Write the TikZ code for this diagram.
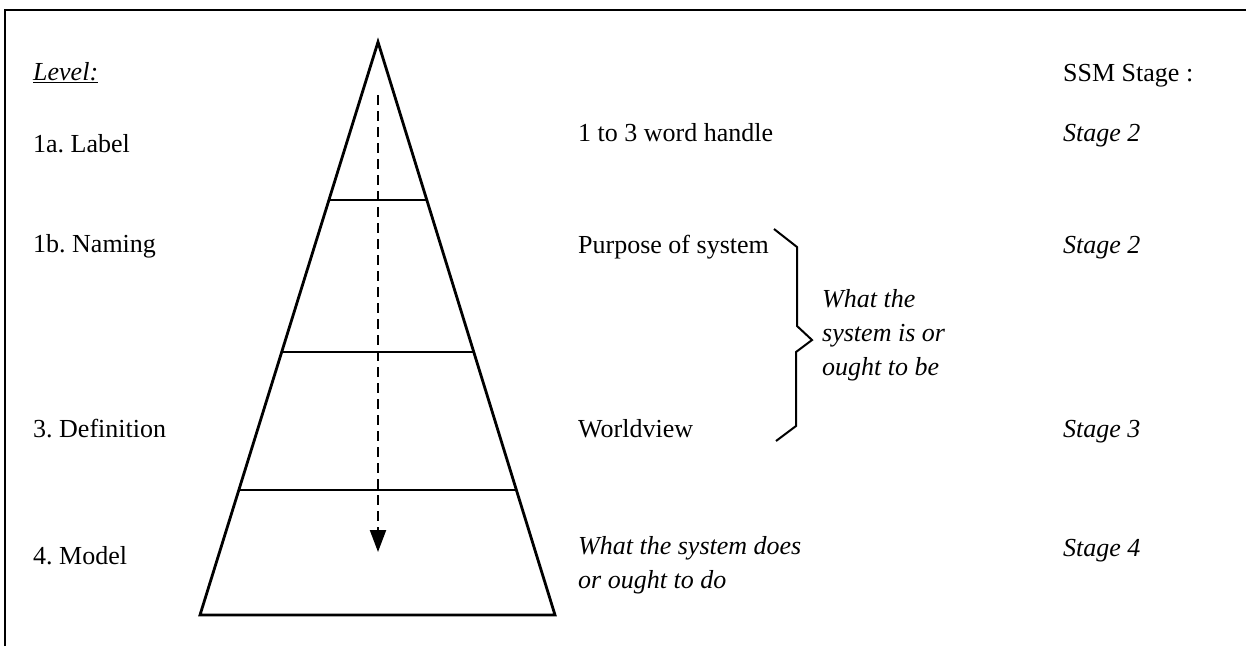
\documentclass[tikz,border=0pt]{standalone}
\usepackage{fontspec}
\setmainfont{Liberation Serif}
\usetikzlibrary{arrows.meta,calc}
\frenchspacing
\begin{document}
\begin{tikzpicture}[x=1pt,y=-1pt,
  txt/.style={anchor=base west, inner sep=0pt, font=\fontsize{26}{34}\selectfont},
  itxt/.style={txt, font=\fontsize{26}{34}\selectfont\itshape},
  blocktxt/.style={anchor=west, inner sep=0pt, align=left, font=\fontsize{26}{34}\selectfont\itshape},
  side/.style={line width=2.8pt, line join=miter},
  band/.style={line width=1.8pt},
  flow/.style={line width=2.2pt, dash pattern=on 10pt off 6pt, -{Triangle[width=16pt,length=22pt]}},
  brace/.style={line width=2pt, line join=miter},
]
\useasboundingbox (0,0) rectangle (1246,646);

% open frame: left and top edges only
\draw[line width=2.4pt] (5,646) -- (5,10) -- (1246,10);

% pyramid outline
\coordinate (apex) at (378,42);
\coordinate (bl) at (200,615);
\coordinate (br) at (555,615);
\draw[side] (bl) -- (apex) -- (br) -- cycle;

% level dividers
\draw[band] ($(apex)!0.2757!(bl)$) -- ($(apex)!0.2757!(br)$);
\draw[band] ($(apex)!0.541!(bl)$) -- ($(apex)!0.541!(br)$);
\draw[band] ($(apex)!0.782!(bl)$) -- ($(apex)!0.782!(br)$);

% downward dashed arrow
\coordinate (arrtop) at (378,95);
\coordinate (arrend) at (378,552);
\draw[flow] (arrtop) -- (arrend);

% level names
\node[txt] (lvl) at (33,80) {\underline{\textit{Level:}}};
\node[txt] (l1a) at (33,152) {1a. Label};
\node[txt] (l1b) at (33,252) {1b. Naming};
\node[txt] (l3) at (33,437) {3. Definition};
\node[txt] (l4) at (33,564) {4. Model};

% descriptions
\node[txt] (d1) at (578,141) {1 to 3 word handle};
\node[txt] (d2) at (578,253) {Purpose of system};
\node[txt] (d3) at (578,437) {Worldview};
\node[blocktxt] (d4) at (578,565) {What the system does\\or ought to do};

% brace grouping purpose and worldview
\draw[brace] (774,229) -- (797,247) -- (797,326) -- (812,340) -- (796,352) -- (796,426) -- (776,441);
\node[blocktxt] (bnote) at (822,335) {What the\\system is or\\ought to be};

% SSM stages
\node[txt] (sh) at (1063,81) {SSM Stage :};
\node[itxt] (s1) at (1063,141) {Stage 2};
\node[itxt] (s2) at (1063,253) {Stage 2};
\node[itxt] (s3) at (1063,437) {Stage 3};
\node[itxt] (s4) at (1063,556) {Stage 4};
\end{tikzpicture}
\end{document}
